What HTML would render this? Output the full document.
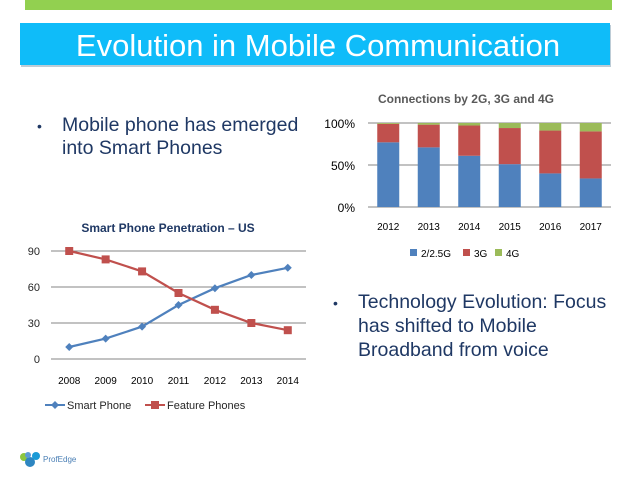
<!DOCTYPE html>
<html><head><meta charset="utf-8"><style>
body{margin:0;width:638px;height:479px;background:#fff;overflow:hidden;font-family:"Liberation Sans",sans-serif}
</style></head><body>
<svg width="638" height="479" viewBox="0 0 638 479" xmlns="http://www.w3.org/2000/svg" font-family="Liberation Sans, DejaVu Sans, sans-serif">
<rect x="25" y="0" width="587" height="10" fill="#92d050"/>
<rect x="21" y="25" width="590" height="42" fill="#5a7f99" opacity="0.4"/>
<rect x="20" y="23" width="590" height="42" fill="#0fbcf9"/>
<text x="318" y="56" text-anchor="middle" font-size="31" fill="#fff">Evolution in Mobile Communication</text>
<g fill="#1f3864" font-size="19.5">
<text x="37" y="131" font-size="14">•</text>
<text x="62" y="131">Mobile phone has emerged</text>
<text x="62" y="154">into Smart Phones</text>
</g>
<g fill="#1f3864" font-size="19.5">
<text x="333" y="308" font-size="14">•</text>
<text x="358" y="308">Technology Evolution:  Focus</text>
<text x="358" y="332">has shifted to Mobile</text>
<text x="358" y="356">Broadband from voice</text>
</g>
<g id="bar"></g>
<g id="line"></g>
<g>
<circle cx="24" cy="457" r="4" fill="#8cc63f"/><circle cx="30" cy="462" r="5" fill="#2e86c1"/><circle cx="36" cy="456" r="4" fill="#1b9ad6"/><circle cx="28" cy="455" r="3" fill="#5b9bd5"/>
<text x="43" y="462" font-size="8" fill="#4a7fb5">ProfEdge</text>
</g>
</svg>
<script>
const ns='http://www.w3.org/2000/svg';
function mk(p,t,a,txt){const e=document.createElementNS(ns,t);for(const k in a)e.setAttribute(k,a[k]);if(txt!==undefined)e.textContent=txt;p.appendChild(e);return e;}
// Bar chart data
const barYears=['2012','2013','2014','2015','2016','2017'];
const share2G=[77,71,61,51,40,34];
const share3G=[22,27,36,43,51,56];
const share4G=[1,2,3,6,9,10];
const barTicks=[0,50,100];
// Line chart data
const lineYears=['2008','2009','2010','2011','2012','2013','2014'];
const smartPhone=[10,17,27,45,59,70,76];
const featurePhones=[90,83,73,55,41,30,24];
const lineTicks=[0,30,60,90];

const bg=document.getElementById('bar');
const bx0=368,bx1=611,by0=207,by1=123;
const bxs=i=>bx0+(bx1-bx0)*(i+0.5)/barYears.length;
const bys=v=>by0-(by0-by1)*v/100;
let t=mk(bg,'text',{x:466,y:103,'text-anchor':'middle','font-size':12,'font-weight':'bold',fill:'#595959'},'Connections by 2G, 3G and 4G');


barTicks.forEach(v=>{
 const l=mk(bg,'line',{x1:bx0,x2:bx1,y1:bys(v),y2:bys(v),stroke:'#868686','stroke-width':1});
 
 
 const tx=mk(bg,'text',{x:355,y:bys(v)+5,'text-anchor':'end','font-size':12,fill:'#000'},v+'%');
 
 
});
const cols=['#4f81bd','#c0504d','#9bbb59'];
barYears.forEach((y,i)=>{
 let base=0;
 [share2G[i],share3G[i],share4G[i]].forEach((v,k)=>{
  const r=mk(bg,'rect',{x:bxs(i)-11,y:bys(base+v),width:22,height:bys(base)-bys(base+v),fill:cols[k]});
  
  
  base+=v;
 });
 const tx=mk(bg,'text',{x:bxs(i),y:230,'text-anchor':'middle','font-size':10,fill:'#000'},y);
 
 
});
[['2/2.5G',410],['3G',463],['4G',495]].forEach((d,k)=>{
 const g=mk(bg,'g',{});
 
 
 mk(g,'rect',{x:d[1],y:249,width:7,height:7,fill:cols[k]});
 mk(g,'text',{x:d[1]+11,y:257,'font-size':10,fill:'#000'},d[0]);
});

const lg=document.getElementById('line');
const lx0=51,lx1=306,ly0=359,ly1=251;
const lxs=i=>lx0+(lx1-lx0)*(i+0.5)/lineYears.length;
const lys=v=>ly0-(ly0-ly1)*v/90;
t=mk(lg,'text',{x:168,y:232,'text-anchor':'middle','font-size':12,'font-weight':'bold',fill:'#1f3864'},'Smart Phone Penetration – US');


lineTicks.forEach(v=>{
 const l=mk(lg,'line',{x1:lx0,x2:lx1,y1:lys(v),y2:lys(v),stroke:'#868686','stroke-width':1});
 
 
 const tx=mk(lg,'text',{x:40,y:lys(v)+4,'text-anchor':'end','font-size':11,fill:'#262626'},String(v));
 
 
});
lineYears.forEach((y,i)=>{
 const tx=mk(lg,'text',{x:lxs(i),y:384,'text-anchor':'middle','font-size':10,fill:'#000'},y);
 
 
});
function series(vals,col,name,shape){
 const p=mk(lg,'polyline',{points:vals.map((v,i)=>lxs(i)+','+lys(v)).join(' '),fill:'none',stroke:col,'stroke-width':2.2});
 
 
 vals.forEach((v,i)=>{
  const x=lxs(i),y=lys(v);
  const m=shape==='d'?mk(lg,'polygon',{points:`${x},${y-4} ${x+4},${y} ${x},${y+4} ${x-4},${y}`,fill:col}):mk(lg,'rect',{x:x-4,y:y-4,width:8,height:8,fill:col});
  
  
 });
}
series(smartPhone,'#4f81bd','smart-phone','d');
series(featurePhones,'#c0504d','feature-phones','s');
[['Smart Phone',67,'#4f81bd','d'],['Feature Phones',167,'#c0504d','s']].forEach(d=>{
 const g=mk(lg,'g',{});
 
 
 mk(g,'line',{x1:d[1]-22,x2:d[1]-2,y1:405,y2:405,stroke:d[2],'stroke-width':2});
 const c=d[1]-12;
 if(d[3]==='d')mk(g,'polygon',{points:`${c},401 ${c+4},405 ${c},409 ${c-4},405`,fill:d[2]});
 else mk(g,'rect',{x:c-4,y:401,width:8,height:8,fill:d[2]});
 mk(g,'text',{x:d[1],y:409,'font-size':11,fill:'#262626'},d[0]);
});
</script>
</body></html>
